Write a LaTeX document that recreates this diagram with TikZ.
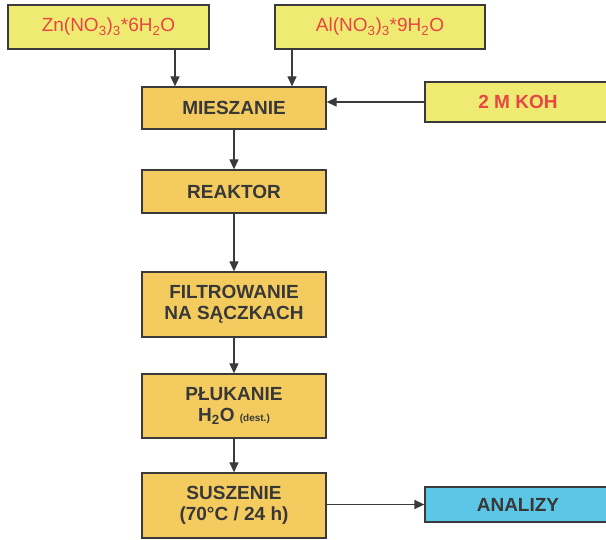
\documentclass[tikz,border=0pt]{standalone}
\usepackage{fontspec}
\setmainfont{Liberation Sans}
\usetikzlibrary{arrows.meta}
\definecolor{lightyel}{HTML}{EEEA72}
\definecolor{orangey}{HTML}{F3CB5E}
\definecolor{skyb}{HTML}{5CC6E6}
\definecolor{redtxt}{HTML}{E84545}
\definecolor{darktxt}{HTML}{383838}
\definecolor{edge}{HTML}{3A3A3A}
\tikzset{
  x=1pt, y=1pt,
  base/.style={draw=edge, line width=1.3pt, inner sep=0pt, align=center,
    font=\fontsize{19}{21}\selectfont},
  inbox/.style={base, fill=lightyel, text=redtxt},
  procbox/.style={base, fill=orangey, text=darktxt, font=\fontsize{19}{21}\selectfont\bfseries, minimum width=184pt},
  outbox/.style={base, fill=skyb, text=darktxt, font=\fontsize{19}{21}\selectfont\bfseries},
  conn/.style={draw=edge, line width=1.3pt, -{Triangle[width=9pt,length=10pt]}}
}
\newcommand{\sub}[1]{\textsubscript{#1}}
\begin{document}
\begin{tikzpicture}
\useasboundingbox (0,0) rectangle (606,-540);
\node[inbox, minimum width=201pt, minimum height=44pt] (zn) at (108.5,-27) {Zn(NO\sub{3})\sub{3}*6H\sub{2}O};
\node[inbox, minimum width=210pt, minimum height=44pt] (al) at (380,-27) {Al(NO\sub{3})\sub{3}*9H\sub{2}O};
\node[inbox, minimum width=186pt, minimum height=40pt, font=\fontsize{19}{21}\selectfont\bfseries] (koh) at (518,-102) {2 M KOH};
\node[procbox, minimum height=42pt] (mix) at (234,-108) {MIESZANIE};
\node[procbox, minimum height=43pt] (reak) at (234,-191.5) {REAKTOR};
\node[procbox, minimum height=65pt] (filt) at (234,-304.5) {FILTROWANIE\\NA SĄCZKACH};
\node[procbox, minimum height=64pt] (pluk) at (234,-406) {PŁUKANIE\\H\sub{2}O {\fontsize{10}{12}\selectfont (dest.)}};
\node[procbox, minimum height=65pt] (susz) at (234,-505.5) {SUSZENIE\\(70°C / 24 h)};
\node[outbox, minimum width=186pt, minimum height=35pt] (anal) at (518,-504.5) {ANALIZY};
\draw[conn] (zn.south -| 175,0) -- (mix.north -| 175,0);
\draw[conn] (al.south -| 292,0) -- (mix.north -| 292,0);
\draw[conn] (koh.west) -- (koh.west -| mix.east);
\draw[conn] (mix) -- (reak);
\draw[conn] (reak) -- (filt);
\draw[conn] (filt) -- (pluk);
\draw[conn] (pluk) -- (susz);
\draw[conn] (susz.east |- anal.west) -- (anal.west);
\end{tikzpicture}
\end{document}
